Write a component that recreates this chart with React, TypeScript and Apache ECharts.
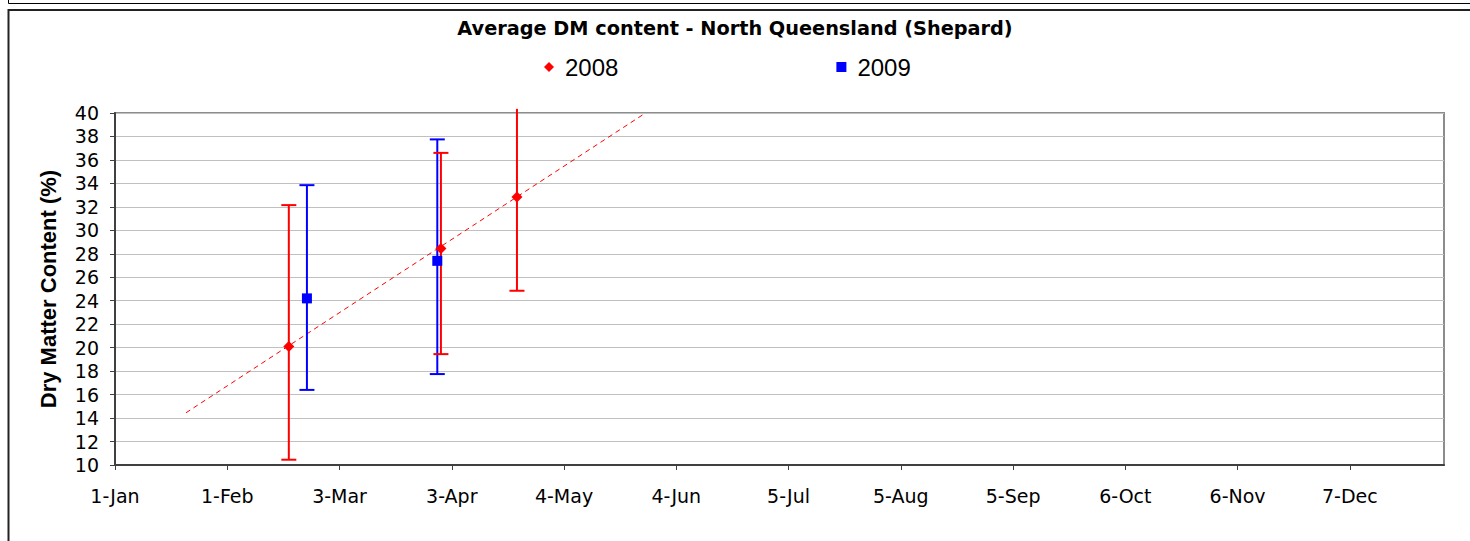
import React, { useEffect, useRef } from "react";
import * as echarts from "echarts";

// ---- data ----
const titleText = "Average DM content - North Queensland (Shepard)";
const yAxisTitle = "Dry Matter Content (%)";

// x axis: day of year (1-Jan = 0), ticks every 31 days
const tickDays = [0, 31, 62, 93, 124, 155, 186, 217, 248, 279, 310, 341];
const tickLabels = ["1-Jan", "1-Feb", "3-Mar", "3-Apr", "4-May", "4-Jun", "5-Jul", "5-Aug", "5-Sep", "6-Oct", "6-Nov", "7-Dec"];

// 2008 series
const days2008 = [48, 90, 111];
const mean2008 = [20.1, 28.45, 32.85];
const low2008 = [10.45, 19.45, 24.85];
const high2008 = [32.15, 36.6, 40.35];

// 2009 series
const days2009 = [53, 89];
const mean2009 = [24.2, 27.4];
const low2009 = [16.4, 17.75];
const high2009 = [33.85, 37.75];

// linear trend line of 2008 (endpoints as drawn)
const trendDays = [19.6, 146.5];
const trendValues = [14.45, 40];

const Y_MIN = 10;
const Y_MAX = 40;

function errorBarRender(color: string) {
  return (params: any, api: any) => {
    const x = api.value(0);
    const lo = api.value(1);
    const hi = api.value(2);
    const pLo = api.coord([x, lo]);
    const pHi = api.coord([x, hi]);
    const half = 7.5;
    const style = { stroke: color, lineWidth: 2 };
    const children: any[] = [
      { type: "line", shape: { x1: pLo[0], y1: pHi[1], x2: pLo[0], y2: pLo[1] }, style },
      { type: "line", shape: { x1: pLo[0] - half, y1: pLo[1], x2: pLo[0] + half, y2: pLo[1] }, style },
    ];
    if (hi <= Y_MAX) {
      children.push({ type: "line", shape: { x1: pLo[0] - half, y1: pHi[1], x2: pLo[0] + half, y2: pHi[1] }, style });
    }
    return { type: "group", children };
  };
}

export default function App() {
  const ref = useRef<HTMLDivElement>(null);

  useEffect(() => {
    if (!ref.current) return;
    const chart = echarts.init(ref.current, null, { renderer: "svg" });

    const pts2008 = days2008.map((d, i) => [d, mean2008[i]]);
    const pts2009 = days2009.map((d, i) => [d, mean2009[i]]);
    const err2008 = days2008.map((d, i) => [d, low2008[i], high2008[i]]);
    const err2009 = days2009.map((d, i) => [d, low2009[i], high2009[i]]);
    const trend = trendDays.map((d, i) => [d, trendValues[i]]);

    chart.setOption({
      animation: false,
      backgroundColor: "#ffffff",
      title: {
        text: titleText,
        left: "center",
        top: 19,
        padding: [0, 0, 0, 20],
        textStyle: { fontFamily: "DejaVu Sans", fontWeight: "bold", fontSize: 19.3, color: "#000" },
      },
      legend: {
        left: 544,
        top: 55,
        padding: 0,
        itemWidth: 10,
        itemHeight: 10,
        itemGap: 218,
        selectedMode: false,
        data: [
          { name: "2008", icon: "diamond" },
          { name: "2009", icon: "rect" },
        ],
        textStyle: { fontFamily: "Liberation Sans", fontSize: 24, color: "#000", padding: [0, 0, 0, 6] },
      },
      graphic: [
        { type: "rect", shape: { x: 8.5, y: -100, width: 1600, height: 103.5 }, style: { fill: "none", stroke: "#000", lineWidth: 1 } },
        { type: "rect", shape: { x: 8.5, y: 10, width: 1600, height: 700 }, style: { fill: "none", stroke: "#222", lineWidth: 2 } },
      ],
      grid: {
        left: 115,
        right: 26,
        top: 113,
        bottom: 76,
        show: true,
        borderColor: "#8c8c8c",
        borderWidth: 2,
        backgroundColor: "transparent",
      },
      xAxis: {
        type: "value",
        min: 0,
        max: 367,
        splitLine: { show: false },
        axisLine: { show: true, onZero: false, lineStyle: { color: "#404040", width: 2 } },
        axisTick: { show: true, length: 5, customValues: tickDays, lineStyle: { color: "#404040", width: 1 } },
        axisLabel: {
          customValues: tickDays,
          margin: 21,
          fontFamily: "DejaVu Sans",
          fontSize: 19,
          color: "#000",
          formatter: (v: number) => {
            const i = tickDays.indexOf(Math.round(v));
            return i >= 0 ? tickLabels[i] : "";
          },
        },
      },
      yAxis: {
        type: "value",
        min: Y_MIN,
        max: Y_MAX,
        interval: 2,
        name: yAxisTitle,
        nameLocation: "middle",
        nameRotate: 90,
        nameGap: 56,
        nameTextStyle: { fontFamily: "Liberation Sans", fontWeight: "bold", fontSize: 22, color: "#000" },
        splitLine: { show: true, lineStyle: { color: "#c0c0c0", width: 1 } },
        axisLine: { show: true, onZero: false, lineStyle: { color: "#404040", width: 2 } },
        axisTick: { show: true, length: 5, lineStyle: { color: "#404040", width: 1 } },
        axisLabel: { margin: 16, fontFamily: "DejaVu Sans", fontSize: 19, color: "#000" },
      },
      series: [
        {
          name: "trend2008",
          type: "line",
          data: trend,
          showSymbol: false,
          symbol: "none",
          clip: true,
          z: 2,
          lineStyle: { color: "#ff0000", width: 1, type: [5, 4] },
          silent: true,
        },
        {
          name: "err2009",
          type: "custom",
          data: err2009,
          renderItem: errorBarRender("#0000ff"),
          encode: { x: 0, y: [1, 2] },
          z: 3,
          silent: true,
        },
        {
          name: "err2008",
          type: "custom",
          data: err2008,
          renderItem: errorBarRender("#ff0000"),
          encode: { x: 0, y: [1, 2] },
          z: 3,
          silent: true,
        },
        {
          name: "2009",
          type: "scatter",
          data: pts2009,
          symbol: "rect",
          symbolSize: 10,
          itemStyle: { color: "#0000ff", opacity: 1 },
          z: 4,
        },
        {
          name: "2008",
          type: "scatter",
          data: pts2008,
          symbol: "diamond",
          symbolSize: 11,
          itemStyle: { color: "#ff0000", opacity: 1 },
          z: 4,
        },
      ],
    });

    return () => chart.dispose();
  }, []);

  return (
    <div
      ref={ref}
      style={{ position: "fixed", left: 0, top: 0, width: 1470, height: 541, background: "#fff" }}
    />
  );
}
